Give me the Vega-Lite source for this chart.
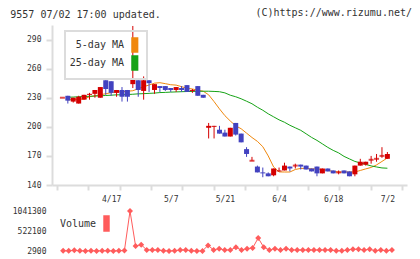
{
  "$schema": "https://vega.github.io/schema/vega-lite/v6.json",
  "background": "white",
  "padding": {"left": 10, "top": 8, "right": 5, "bottom": 4},
  "title": {"text": "9557 07/02 17:00 updated.", "anchor": "start", "frame": "bounds", "dx": -2, "dy": 12, "offset": 0, "fontSize": 10, "font": "DejaVu Sans Mono", "fontWeight": "normal", "color": "#333"},
  "datasets": {
    "px": [
      {"d":"4/4","i":-1,"o":230,"h":230,"l":230,"c":230,"m5":null,"m25":null,"v":null},
      {"d":"4/5","i":0,"o":232,"h":232,"l":224,"c":227,"m5":227.7,"m25":230.5,"v":8100},
      {"d":"4/8","i":1,"o":226,"h":230,"l":225,"c":230,"m5":228.3,"m25":230.7,"v":6500},
      {"d":"4/9","i":2,"o":224,"h":232,"l":224,"c":231,"m5":228.3,"m25":231,"v":19800},
      {"d":"4/10","i":3,"o":228,"h":233,"l":228,"c":233,"m5":228.8,"m25":231.2,"v":7300},
      {"d":"4/11","i":4,"o":233,"h":235,"l":228,"c":234,"m5":231,"m25":231.5,"v":5600},
      {"d":"4/12","i":5,"o":234,"h":238,"l":230,"c":238,"m5":232,"m25":231.7,"v":9200},
      {"d":"4/15","i":6,"o":230,"h":241,"l":230,"c":241,"m5":233.1,"m25":232,"v":4800},
      {"d":"4/16","i":7,"o":248,"h":248,"l":233,"c":239,"m5":234.1,"m25":232.3,"v":6900},
      {"d":"4/17","i":8,"o":247,"h":247,"l":232,"c":235,"m5":235.2,"m25":232.6,"v":8800},
      {"d":"4/18","i":9,"o":235,"h":238,"l":231,"c":238,"m5":236,"m25":233,"v":5200},
      {"d":"4/19","i":10,"o":238,"h":241,"l":226,"c":231,"m5":236.2,"m25":233,"v":7700},
      {"d":"4/22","i":11,"o":238,"h":238,"l":226,"c":231,"m5":236.7,"m25":233.3,"v":18500},
      {"d":"4/23","i":12,"o":244,"h":304,"l":240,"c":250,"m5":237.2,"m25":233.6,"v":1041300},
      {"d":"4/24","i":13,"o":248,"h":248,"l":231,"c":238,"m5":239.3,"m25":234,"v":131200},
      {"d":"4/25","i":14,"o":237,"h":252,"l":228,"c":248,"m5":241.4,"m25":234.2,"v":166400},
      {"d":"4/26","i":15,"o":248,"h":248,"l":236,"c":245,"m5":243.1,"m25":234.5,"v":29800},
      {"d":"4/30","i":16,"o":238,"h":244,"l":234,"c":244,"m5":245,"m25":234.8,"v":31200},
      {"d":"5/1","i":17,"o":242,"h":242,"l":236,"c":240,"m5":245.5,"m25":235.3,"v":27600},
      {"d":"5/2","i":18,"o":242,"h":242,"l":237,"c":238,"m5":244.5,"m25":235.5,"v":9400},
      {"d":"5/7","i":19,"o":240,"h":240,"l":236,"c":238,"m5":243.4,"m25":235.8,"v":6100},
      {"d":"5/8","i":20,"o":238,"h":241,"l":236,"c":241,"m5":243,"m25":236,"v":8300},
      {"d":"5/9","i":21,"o":240,"h":242,"l":236,"c":238,"m5":241.4,"m25":236.2,"v":28700},
      {"d":"5/10","i":22,"o":243,"h":243,"l":236,"c":236,"m5":239.8,"m25":236.4,"v":30500},
      {"d":"5/13","i":23,"o":237,"h":239,"l":235,"c":238,"m5":239,"m25":236.5,"v":7200},
      {"d":"5/14","i":24,"o":242,"h":242,"l":232,"c":232,"m5":237.8,"m25":236.6,"v":2900},
      {"d":"5/15","i":25,"o":233,"h":233,"l":230,"c":230,"m5":236.7,"m25":236.7,"v":5900},
      {"d":"5/16","i":26,"o":199,"h":204,"l":188,"c":201,"m5":233,"m25":236.7,"v":148600},
      {"d":"5/17","i":27,"o":200,"h":201,"l":188,"c":201,"m5":226,"m25":236.5,"v":32100},
      {"d":"5/20","i":28,"o":197,"h":201,"l":193,"c":193,"m5":218.5,"m25":236.2,"v":61800},
      {"d":"5/21","i":29,"o":194,"h":197,"l":190,"c":190,"m5":211.5,"m25":235,"v":29400},
      {"d":"5/22","i":30,"o":190,"h":199,"l":190,"c":199,"m5":206,"m25":232.6,"v":30200},
      {"d":"5/23","i":31,"o":204,"h":204,"l":191,"c":192,"m5":201,"m25":231,"v":97600},
      {"d":"5/24","i":32,"o":193,"h":193,"l":184,"c":184,"m5":198,"m25":228.9,"v":28800},
      {"d":"5/27","i":33,"o":177,"h":179,"l":169,"c":172,"m5":193.5,"m25":226.4,"v":64300},
      {"d":"5/28","i":34,"o":165,"h":169,"l":165,"c":165,"m5":189,"m25":223.8,"v":80500},
      {"d":"5/29","i":35,"o":159,"h":160,"l":153,"c":153,"m5":185,"m25":220.2,"v":339800},
      {"d":"5/30","i":36,"o":153,"h":158,"l":148,"c":152,"m5":179.5,"m25":217.1,"v":99200},
      {"d":"5/31","i":37,"o":152,"h":153,"l":149,"c":149,"m5":170,"m25":213.4,"v":30700},
      {"d":"6/3","i":38,"o":150,"h":157,"l":149,"c":157,"m5":158.5,"m25":210.3,"v":62500},
      {"d":"6/4","i":39,"o":154,"h":158,"l":154,"c":155,"m5":153.5,"m25":207.2,"v":29100},
      {"d":"6/5","i":40,"o":155,"h":163,"l":155,"c":160,"m5":153.4,"m25":204.7,"v":63900},
      {"d":"6/6","i":41,"o":159,"h":159,"l":154,"c":157,"m5":153.4,"m25":201.6,"v":28400},
      {"d":"6/7","i":42,"o":160,"h":162,"l":157,"c":160,"m5":156,"m25":199,"v":31000},
      {"d":"6/10","i":43,"o":161,"h":161,"l":156,"c":159,"m5":157.1,"m25":196.4,"v":27900},
      {"d":"6/11","i":44,"o":160,"h":160,"l":156,"c":156,"m5":157.1,"m25":192.8,"v":30100},
      {"d":"6/12","i":45,"o":157,"h":157,"l":154,"c":154,"m5":156.6,"m25":189.1,"v":29600},
      {"d":"6/13","i":46,"o":159,"h":159,"l":149,"c":152,"m5":156.6,"m25":186,"v":28200},
      {"d":"6/14","i":47,"o":152,"h":157,"l":152,"c":157,"m5":156,"m25":182.4,"v":31500},
      {"d":"6/17","i":48,"o":157,"h":157,"l":154,"c":154,"m5":155,"m25":178.8,"v":29900},
      {"d":"6/18","i":49,"o":155,"h":155,"l":152,"c":152,"m5":154,"m25":175.7,"v":8600},
      {"d":"6/19","i":50,"o":153,"h":155,"l":151,"c":153,"m5":153.4,"m25":173.1,"v":7400},
      {"d":"6/20","i":51,"o":155,"h":155,"l":152,"c":152,"m5":153.4,"m25":169.5,"v":30800},
      {"d":"6/21","i":52,"o":154,"h":154,"l":149,"c":149,"m5":153.4,"m25":166.9,"v":46900},
      {"d":"6/24","i":53,"o":151,"h":160,"l":149,"c":160,"m5":153.4,"m25":164.3,"v":48200},
      {"d":"6/25","i":54,"o":160,"h":167,"l":160,"c":164,"m5":155,"m25":162.8,"v":29300},
      {"d":"6/26","i":55,"o":161,"h":164,"l":160,"c":164,"m5":156.6,"m25":161.2,"v":47500},
      {"d":"6/27","i":56,"o":166,"h":170,"l":162,"c":166,"m5":158.1,"m25":159.7,"v":9900},
      {"d":"6/28","i":57,"o":167,"h":172,"l":164,"c":167,"m5":160.7,"m25":158.6,"v":28600},
      {"d":"7/1","i":58,"o":170,"h":179,"l":168,"c":170,"m5":164.3,"m25":157.6,"v":8100},
      {"d":"7/2","i":59,"o":167,"h":174,"l":167,"c":172,"m5":167.9,"m25":157.3,"v":30400}
    ]
  },
  "spacing": 4,
  "resolve": {"scale": {"color": "independent"}, "legend": {"color": "independent"}},
  "vconcat": [
    {
      "width": 355,
      "height": 160,
      "title": {"text": "(C)https://www.rizumu.net/", "anchor": "end", "frame": "group", "dx": 5, "offset": 7, "fontSize": 10, "font": "DejaVu Sans Mono", "fontWeight": "normal", "color": "#333"},
      "data": {"name": "px"},
      "resolve": {"axis": {"x": "independent"}},
      "layer": [
        {
          "mark": {"type": "line", "strokeWidth": 1},
          "encoding": {
            "x": {"field": "i", "type": "quantitative", "scale": {"domain": [-2, 61.7], "nice": false, "zero": false},
                  "axis": {"orient": "bottom", "values": [-2, 3.79, 9.58, 15.37, 21.16, 26.95, 32.74, 38.53, 44.32, 50.11, 55.9, 61.69], "tickCount": 30, "labels": false, "tickSize": 5, "title": null, "domainWidth": 2, "tickWidth": 2}},
            "y": {"field": "m5", "type": "quantitative", "scale": {"domain": [140, 305], "nice": false, "zero": false},
                  "axis": {"values": [140, 170, 200, 230, 260, 290], "tickCount": 12, "labelOverlap": false, "tickSize": 6, "labelPadding": 5, "title": null, "domainWidth": 2, "tickWidth": 2}},
            "color": {"datum": "5-day MA", "type": "nominal",
                      "scale": {"domain": ["5-day MA", "25-day MA"], "range": ["#f0880e", "#16a316"]},
                      "legend": {"orient": "none", "legendX": 13, "legendY": 6, "title": null, "padding": 6, "rowPadding": -2, "labelOffset": -7,
                                 "strokeColor": "#dcdcdc", "labelFont": "DejaVu Sans Mono", "labelFontSize": 10, "labelColor": "#333",
                                 "symbolType": "M-0.4,-1H0.4V1H-0.4Z", "symbolSize": 196,
                                 "encode": {
                                   "legend": {"update": {"strokeWidth": {"value": 2}}},
                                   "symbols": {"update": {"x": {"value": 63.8}, "fill": {"signal": "datum.value === '5-day MA' ? '#f0880e' : '#16a316'"}, "stroke": {"value": "#333"}, "strokeWidth": {"value": 1.5}, "opacity": {"value": 1}}},
                                   "labels": {"update": {"x": {"value": 53}, "align": {"value": "right"}}}
                                 }}}
          }
        },
        {
          "mark": {"type": "line", "strokeWidth": 1},
          "encoding": {
            "x": {"field": "i", "type": "quantitative", "scale": {"domain": [-2, 61.7], "nice": false, "zero": false},
                  "axis": {"orient": "bottom", "values": [8, 19, 29, 39, 49, 59], "tickCount": 12, "ticks": false, "domain": false, "labelPadding": 10, "title": null, "labelFlush": false,
                           "labelExpr": "datum.value == 8 ? '4/17' : datum.value == 19 ? '5/7' : datum.value == 29 ? '5/21' : datum.value == 39 ? '6/4' : datum.value == 49 ? '6/18' : '7/2'"}},
            "y": {"field": "m25", "type": "quantitative", "scale": {"domain": [140, 305], "nice": false, "zero": false}},
            "color": {"datum": "25-day MA", "type": "nominal"}
          }
        },
        {
          "mark": {"type": "rule", "strokeWidth": 1},
          "encoding": {
            "x": {"field": "i", "type": "quantitative", "scale": {"domain": [-2, 61.7], "nice": false, "zero": false}, "axis": null},
            "y": {"field": "l", "type": "quantitative", "scale": {"domain": [140, 305], "nice": false, "zero": false}},
            "y2": {"field": "h"},
            "color": {"condition": {"test": "datum.c >= datum.o", "value": "#d40000"}, "value": "#4242c0"}
          }
        },
        {
          "mark": {"type": "bar", "size": 5},
          "encoding": {
            "x": {"field": "i", "type": "quantitative", "scale": {"domain": [-2, 61.7], "nice": false, "zero": false}, "axis": null},
            "y": {"field": "o", "type": "quantitative", "scale": {"domain": [140, 305], "nice": false, "zero": false}},
            "y2": {"field": "c"},
            "color": {"condition": {"test": "datum.c >= datum.o", "value": "#d40000"}, "value": "#4242c0"}
          }
        },
        {
          "transform": [{"filter": "datum.o == datum.c"}],
          "mark": {"type": "tick", "orient": "horizontal", "size": 5, "thickness": 2},
          "encoding": {
            "x": {"field": "i", "type": "quantitative", "scale": {"domain": [-2, 61.7], "nice": false, "zero": false}, "axis": null},
            "y": {"field": "c", "type": "quantitative", "scale": {"domain": [140, 305], "nice": false, "zero": false}},
            "color": {"value": "#d40000"}
          }
        }
      ]
    },
    {
      "width": 355,
      "height": 40,
      "data": {"name": "px"},
      "mark": {"type": "line", "strokeWidth": 1, "point": {"shape": "diamond", "size": 36, "filled": true}},
      "encoding": {
        "x": {"field": "i", "type": "quantitative", "scale": {"domain": [-2, 61.7], "nice": false, "zero": false}, "axis": null},
        "y": {"field": "v", "type": "quantitative", "scale": {"domain": [2900, 1041300], "nice": false, "zero": false},
              "axis": {"values": [2900, 522100, 1041300], "tickCount": 6, "format": "d", "labelOverlap": false, "domain": false, "ticks": false, "labelPadding": 6, "title": null}},
        "color": {"datum": "Volume", "type": "nominal", "scale": {"range": ["#ff5c5c"]},
                  "legend": {"orient": "none", "legendX": 0, "legendY": 4, "title": null, "padding": 0,
                             "labelFont": "DejaVu Sans Mono", "labelFontSize": 10, "labelColor": "#333",
                             "symbolType": "M-0.33,-1H0.33V1H-0.33Z", "symbolSize": 225,
                             "encode": {
                               "symbols": {"update": {"x": {"value": 54.5}, "fill": {"value": "#ff5c5c"}, "stroke": {"value": "#333"}, "strokeWidth": {"value": 1.5}, "opacity": {"value": 1}}},
                               "labels": {"update": {"x": {"value": 44}, "align": {"value": "right"}}}
                             }}}
      }
    }
  ],
  "config": {
    "font": "DejaVu Sans Mono",
    "view": {"stroke": null},
    "axis": {"labelFont": "DejaVu Sans Mono", "labelFontSize": 8, "labelColor": "#333", "domainColor": "#dcdcdc", "tickColor": "#dcdcdc", "grid": false, "labelFlush": false}
  }
}
